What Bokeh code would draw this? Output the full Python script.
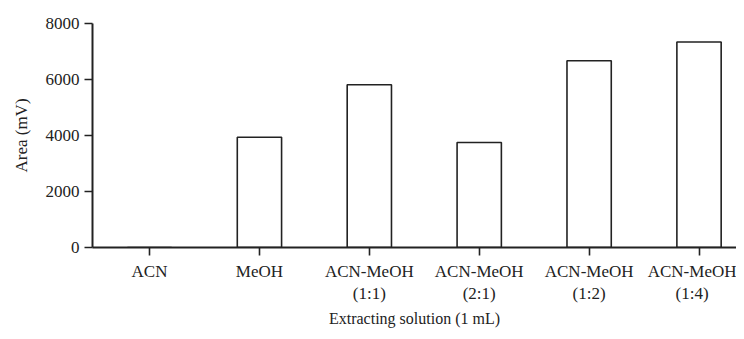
from bokeh.plotting import figure
from bokeh.models import Range1d, FixedTicker, ColumnDataSource
from bokeh.embed import file_html
from bokeh.resources import INLINE

categories = ["ACN", "MeOH", "ACN-MeOH\n(1:1)", "ACN-MeOH\n(2:1)", "ACN-MeOH\n(1:2)", "ACN-MeOH\n(1:4)"]
areas = [0, 3940, 5810, 3750, 6670, 7340]
y_ticks = [0, 2000, 4000, 6000, 8000]

positions = list(range(len(categories)))
src = ColumnDataSource(dict(x=positions, top=areas))

FONT = "Liberation Serif"
INK = "#222222"

p = figure(width=736, height=331, output_backend="svg", toolbar_location=None,
           x_range=Range1d(-0.519, 5.341), y_range=Range1d(0, 8000),
           min_border_left=92, min_border_top=23, min_border_right=0, min_border_bottom=84)

p.vbar(x="x", top="top", bottom=0, width=0.403, source=src,
       fill_color="white", line_color=INK, line_width=1.6)

p.xgrid.visible = False
p.ygrid.visible = False
p.outline_line_color = None

p.xaxis.ticker = FixedTicker(ticks=positions)
p.xaxis.major_label_overrides = {i: c for i, c in enumerate(categories)}
p.yaxis.ticker = FixedTicker(ticks=y_ticks)

for ax in (p.xaxis[0], p.yaxis[0]):
    ax.axis_line_color = INK
    ax.axis_line_width = 2
    ax.major_tick_line_color = INK
    ax.major_tick_line_width = 1.6
    ax.major_tick_out = 8
    ax.major_tick_in = 0
    ax.minor_tick_line_color = None
    ax.major_label_text_font = FONT
    ax.major_label_text_font_size = "17px"
    ax.major_label_text_color = INK
    ax.axis_label_text_font = FONT
    ax.axis_label_text_font_size = "17px"
    ax.axis_label_text_font_style = "normal"
    ax.axis_label_text_color = INK

p.xaxis.axis_label_text_font_size = "16px"
p.xaxis.axis_label = "Extracting solution (1 mL)"
p.yaxis.axis_label = "Area (mV)"
p.xaxis.major_label_standoff = 6
p.xaxis.axis_label_standoff = 4
p.yaxis.major_label_standoff = 5
p.yaxis.axis_label_standoff = 12

open("out.html", "w").write(file_html(p, INLINE))
